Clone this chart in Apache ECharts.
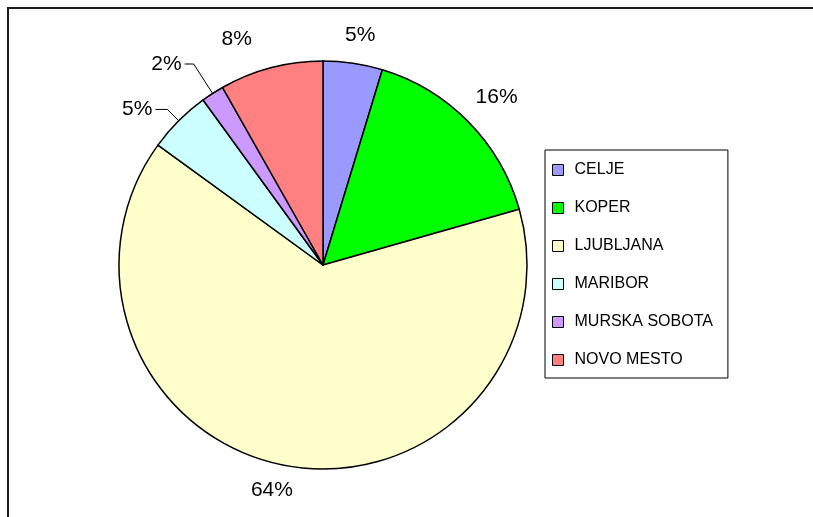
<!DOCTYPE html>
<html>
<head>
<meta charset="utf-8">
<script src="https://cdn.jsdelivr.net/npm/echarts@6/dist/echarts.min.js"></script>
<style>
  html, body { margin: 0; padding: 0; background: #fff; }
  #chart { width: 813px; height: 517px; }
</style>
</head>
<body>
<div id="chart"></div>
<script>
// data (share in %)
const cities = ['CELJE', 'KOPER', 'LJUBLJANA', 'MARIBOR', 'MURSKA SOBOTA', 'NOVO MESTO'];
const shares = [4.7, 15.9, 64.4, 5.0, 1.8, 8.2];
const colors = ['#9999ff', '#00ff00', '#ffffcc', '#ccffff', '#cc99ff', '#ff8080'];

// label leader settings per slice (only the two thin slices show a line)
const guides = [
  { len: 28, len2: 0, line: false },
  { len: 35, len2: 0, line: false },
  { len: 25, len2: 8, line: false },
  { len: 16, len2: 12, line: true },
  { len: 35, len2: 9, line: true },
  { len: 29, len2: 24, line: false }
];

const font = 'Liberation Sans, Arial, sans-serif';

let chart = echarts.init(document.getElementById('chart'));
let option = {
  animation: false,
  graphic: [
    {
      type: 'rect',
      silent: true,
      z: -10,
      shape: { x: 8, y: 8, width: 900, height: 600 },
      style: { fill: 'none', stroke: '#1a1a1a', lineWidth: 2 }
    }
  ],
  legend: {
    orient: 'vertical',
    left: 545,
    top: 150,
    padding: [12, 15, 10, 7],
    itemGap: 22,
    itemWidth: 11,
    itemHeight: 11,
    icon: 'rect',
    selectedMode: false,
    borderColor: '#000',
    borderWidth: 1,
    itemStyle: { borderColor: '#000', borderWidth: 1 },
    textStyle: { fontFamily: font, fontSize: 16, color: '#000', padding: [0, 0, 0, 6] },
    data: cities
  },
  series: [
    {
      type: 'pie',
      center: [323, 265],
      radius: 204,
      startAngle: 90,
      clockwise: true,
      avoidLabelOverlap: false,
      emphasis: { disabled: true },
      itemStyle: { borderColor: '#000', borderWidth: 1.5 },
      label: {
        position: 'outside',
        fontFamily: font,
        fontSize: 21,
        color: '#000',
        distanceToLabelLine: 3,
        formatter: p => Math.round(p.percent) + '%'
      },
      labelLine: { lineStyle: { color: '#000', width: 1 } },
      labelLayout: p => (guides[p.dataIndex].line ? {} : { align: 'center' }),
      data: cities.map((name, i) => ({
        name: name,
        value: shares[i],
        itemStyle: { color: colors[i] },
        labelLine: {
          show: guides[i].line,
          length: guides[i].len,
          length2: guides[i].len2
        }
      }))
    }
  ]
};
chart.setOption(option);
window.addEventListener('resize', () => chart.resize());
</script>
</body>
</html>
